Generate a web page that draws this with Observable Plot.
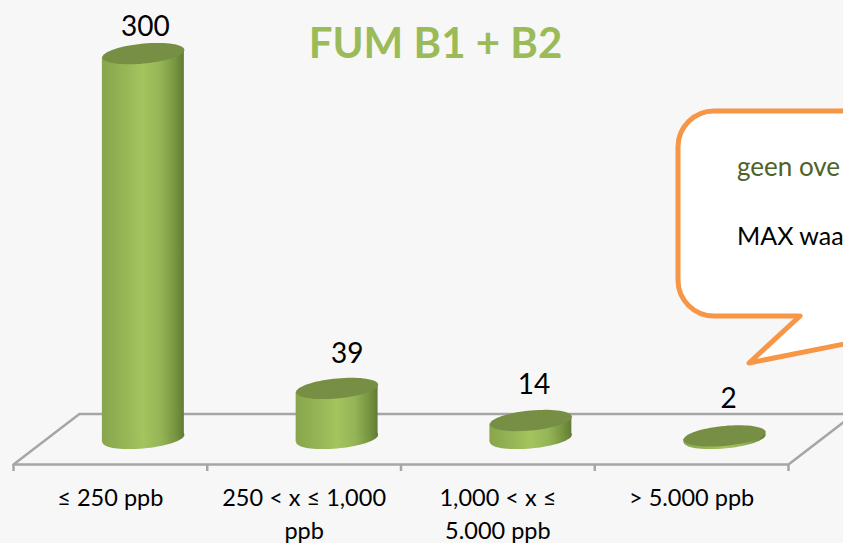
<!DOCTYPE html>
<html>
<head>
<meta charset="utf-8">
<script src="https://cdn.jsdelivr.net/npm/d3@7"></script>
<script src="https://cdn.jsdelivr.net/npm/@observablehq/plot@0.6"></script>
<style>
html,body{margin:0;padding:0;background:#F7F7F7;overflow:hidden;width:843px;height:543px}
</style>
</head>
<body>
<div id="chart"></div>
<script>
const categories = ["≤ 250 ppb", "250 < x ≤ 1,000\nppb", "1,000 < x ≤\n5.000 ppb", "> 5.000 ppb"];
const values = [300, 39, 14, 2];
const chartTitle = "FUM B1 + B2";
const calloutLines = ["geen ove", "MAX waa"];

const FONT = "Lato, Carlito, 'Open Sans', sans-serif";
const W = 843, H = 543;
const rows = categories.map((c, i) => ({c, i, v: values[i], pos: i + 0.5}));

// 3D look, in scale units
const floorY = -20.3, backY = 19.1, depth = 0.34, halfBar = 0.2115, tilt = 2.9;
const shift = 33;

const tiltedEllipse = {
  draw(ctx, size) {
    const a = Math.sqrt(size / Math.PI), k = a / 41;
    for (let s = 0; s <= 72; ++s) {
      const t = s / 72 * 2 * Math.PI;
      const x = a * Math.cos(t), y = k * (-3.7 * Math.cos(t) + 10 * Math.sin(t));
      s ? ctx.lineTo(x, y) : ctx.moveTo(x, y);
    }
    ctx.closePath();
  }
};

const defs = () => {
  const svg = d3.create("svg:defs");
  const g = svg.append("linearGradient").attr("id", "cyl");
  [["0%", "#88A54B"], ["25%", "#94B455"], ["50%", "#A3C45E"], ["72%", "#95B456"], ["90%", "#76933F"], ["100%", "#607C37"]]
    .forEach(([o, c]) => g.append("stop").attr("offset", o).attr("stop-color", c));
  return svg.node();
};

const callout = () => {
  const g = d3.create("svg:g");
  const l = 678, t = 111, b = 316, r = 36, R = 900;
  const p = d3.path();
  p.moveTo(l + r, t);
  p.lineTo(R, t);
  p.lineTo(R, 333);
  p.lineTo(749, 363);
  p.lineTo(800, b);
  p.lineTo(l + r, b);
  p.arcTo(l, b, l, b - r, r);
  p.lineTo(l, t + r);
  p.arcTo(l, t, l + r, t, r);
  p.closePath();
  g.append("path").attr("d", p.toString()).attr("fill", "#fff")
    .attr("stroke", "#F79646").attr("stroke-width", 5).attr("stroke-linejoin", "round");
  const ys = [167, 236], cols = ["#4F6228", "#000"], sizes = [26, 25];
  calloutLines.forEach((s, i) => g.append("text").text(s)
    .attr("x", 737).attr("y", ys[i]).attr("dy", "0.35em").attr("text-anchor", "start")
    .attr("fill", cols[i]).attr("font-size", sizes[i]).attr("font-family", FONT));
  return g.node();
};

const nudges = [[2, -27], [10, -34], [3, -35], [4, -37]];
const bodyPoints = rows.flatMap(d => [
  {i: d.i, x: d.pos - halfBar, y1: -tilt, y2: d.v - tilt},
  {i: d.i, x: d.pos + halfBar, y1: tilt, y2: d.v + tilt}
]);

const plot = Plot.plot({
  width: W, height: H,
  marginLeft: 13, marginRight: 55, marginTop: 0, marginBottom: 79,
  x: {type: "linear", domain: [0, 4], axis: null},
  y: {domain: [floorY, 341.4], axis: null},
  style: {background: "#F7F7F7", overflow: "hidden", fontFamily: FONT},
  marks: [
    defs,
    Plot.line([[0, floorY], [depth, backY], [4 + depth, backY], [4, floorY], [0, floorY]], {
      stroke: "#A6A6A6", strokeWidth: 2.5, curve: "linear"
    }),
    Plot.axisX({ticks: [0, 1, 2, 3, 4], tickSize: 7, tickFormat: () => "", stroke: "#A6A6A6", strokeWidth: 2.5, label: null}),
    Plot.dot(rows, {x: "pos", y: () => 0, dx: shift, r: 41, symbol: tiltedEllipse, fill: "url(#cyl)", stroke: "none"}),
    Plot.areaY(bodyPoints, {x: "x", y1: "y1", y2: "y2", z: "i", dx: shift, fill: "url(#cyl)", curve: "linear"}),
    Plot.dot(rows, {x: "pos", y: "v", dx: shift, r: 41, symbol: tiltedEllipse, fill: "#778F45", stroke: "none"}),
    ...rows.map((d, i) => Plot.text([d], {
      x: "pos", y: "v", text: x => String(x.v), dx: shift + nudges[i][0], dy: nudges[i][1],
      fontSize: 28, fill: "#000", fontFamily: FONT
    })),
    Plot.text(rows, {
      x: "pos", y: () => floorY, text: "c", dy: 18, lineAnchor: "top", lineHeight: 1.4,
      fontSize: 23.5, fill: "#000", fontFamily: FONT
    }),
    Plot.text([chartTitle], {
      x: () => 2.178, y: () => 307, text: d => d, fontSize: 42, fontWeight: 700, fill: "#9BBB59", fontFamily: FONT
    }),
    callout
  ]
});
document.getElementById("chart").append(plot);
</script>
</body>
</html>
